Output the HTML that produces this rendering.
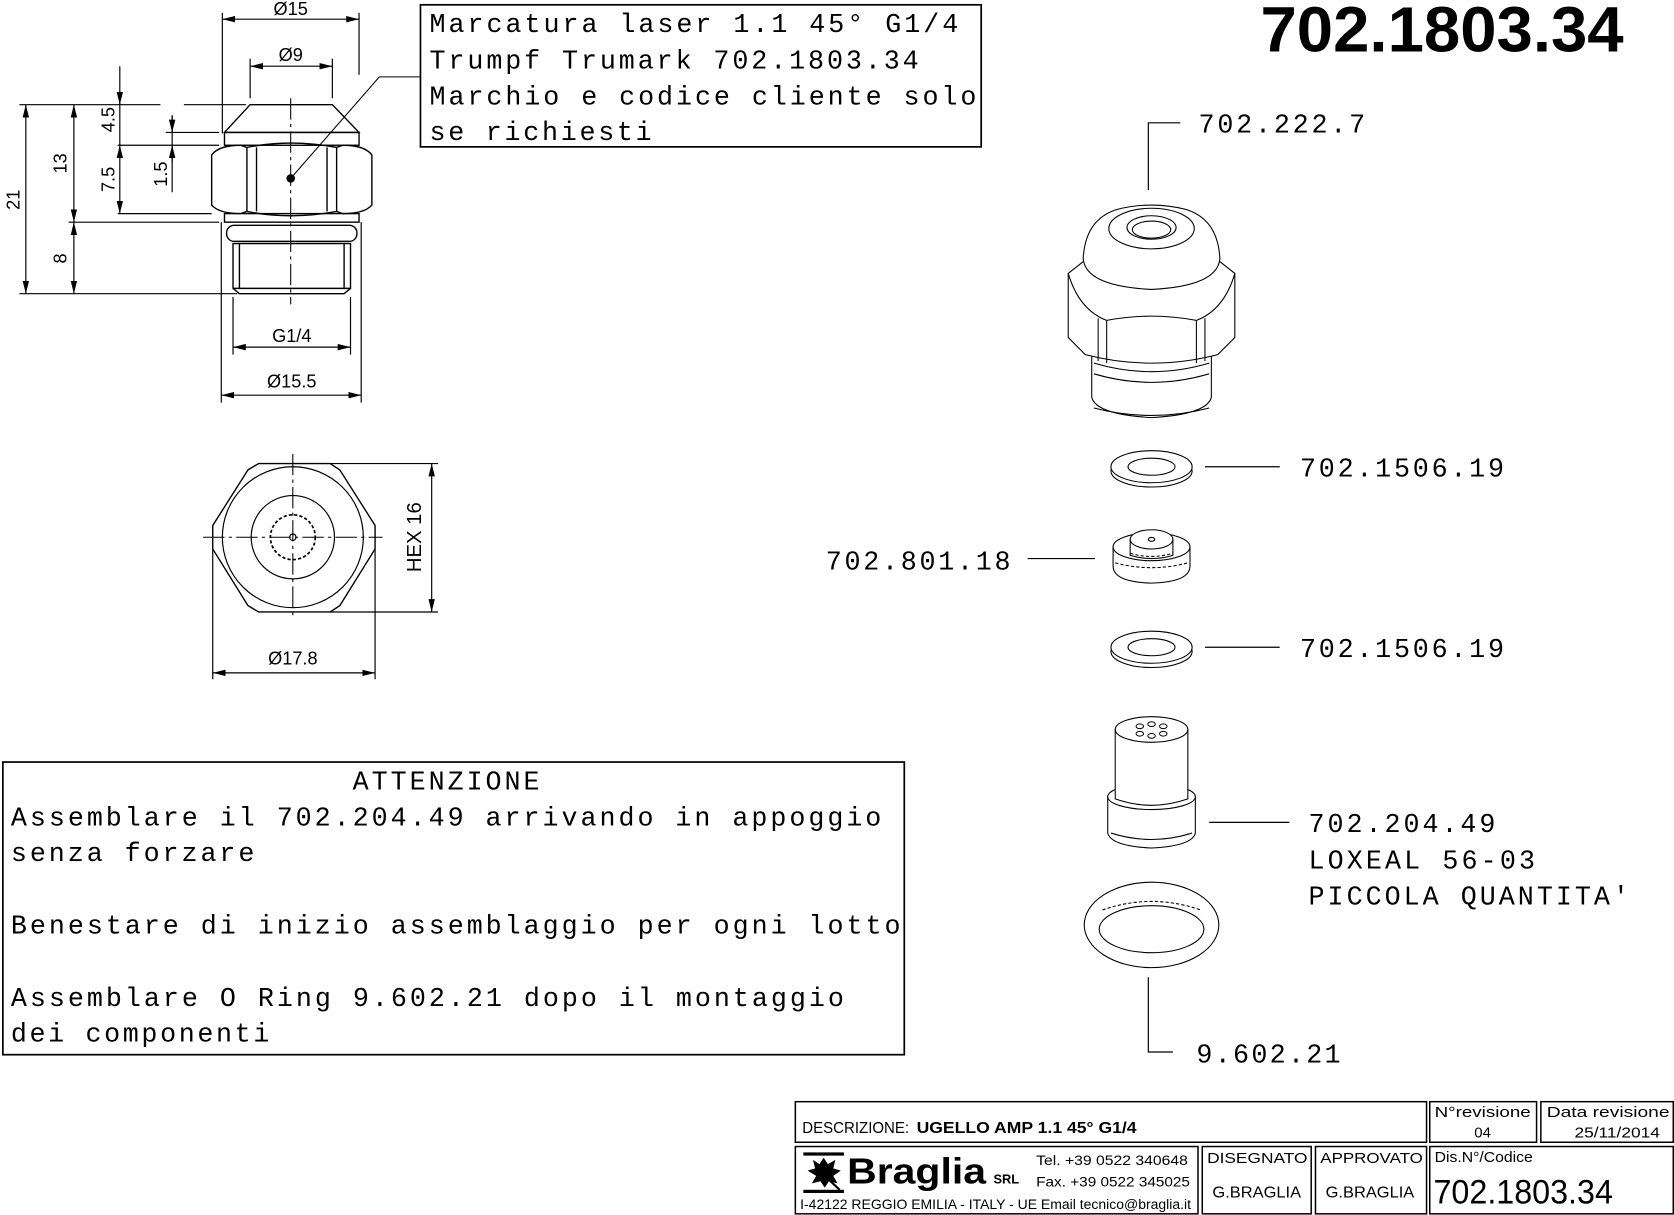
<!DOCTYPE html>
<html><head><meta charset="utf-8"><style>
html,body{margin:0;padding:0;background:#fff;}
svg{display:block}
.m{font-family:"Liberation Mono",monospace;font-size:25px;fill:#000}
.s{font-family:"Liberation Sans",sans-serif;fill:#000}
</style></head><body>
<svg width="1674" height="1215" viewBox="0 0 1567 1137.6" xmlns="http://www.w3.org/2000/svg">
<defs>
<marker id="a" viewBox="0 0 12 6" refX="12" refY="3" markerWidth="12" markerHeight="6" orient="auto-start-reverse" markerUnits="userSpaceOnUse"><path d="M0,0 L12,3 L0,6 z" fill="#000"/></marker>
</defs>
<rect width="1567" height="1138" fill="#fff"/>
<g fill="none" stroke="#000" stroke-width="1.3">
<path d="M234,98 L311,98 L336,124 L210,124 Z"/>
<rect x="210" y="124" width="126" height="12"/>
<path d="M198,145 Q205,136 225,136 L231,138 Q272,130 315,138 L321,136 Q341,136 348,145 L348,192 Q341,200 321,200 L315,198 Q272,206 231,198 L225,200 Q205,200 198,192 Z"/>
<line x1="231" y1="138" x2="231" y2="198"/><line x1="240" y1="138" x2="240" y2="198"/>
<line x1="306" y1="138" x2="306" y2="198"/><line x1="315" y1="138" x2="315" y2="198"/>
<rect x="210" y="200" width="126" height="8"/>
<rect x="212" y="211" width="122" height="15" rx="7"/>
<path d="M218,228 L328,228 L328,270 L322,275 L224,275 L218,270 Z"/>
<line x1="224" y1="228" x2="224" y2="270"/><line x1="322" y1="228" x2="322" y2="270"/>
<line x1="218" y1="270" x2="328" y2="270"/>
<line x1="272" y1="92" x2="272" y2="285" stroke-dasharray="20,4,3,4" stroke-width="1"/>
<polyline points="393,72 355,72 272,167" stroke-width="1"/>
</g>
<circle cx="272" cy="167" r="4"/>
<g stroke="#000" stroke-width="1.1" fill="none">
<line x1="208" y1="12" x2="208" y2="125"/><line x1="336" y1="12" x2="336" y2="70"/>
<line x1="208" y1="18" x2="336" y2="18" marker-start="url(#a)" marker-end="url(#a)"/>
<line x1="234" y1="55" x2="234" y2="92"/><line x1="311" y1="55" x2="311" y2="92"/>
<line x1="234" y1="62" x2="311" y2="62" marker-start="url(#a)" marker-end="url(#a)"/>
<line x1="218" y1="278" x2="218" y2="332"/><line x1="328" y1="278" x2="328" y2="332"/>
<line x1="218" y1="325" x2="328" y2="325" marker-start="url(#a)" marker-end="url(#a)"/>
<line x1="207" y1="208" x2="207" y2="377"/><line x1="338" y1="208" x2="338" y2="377"/>
<line x1="207" y1="370" x2="338" y2="370" marker-start="url(#a)" marker-end="url(#a)"/>
<line x1="18" y1="98" x2="150" y2="98"/><line x1="172" y1="98" x2="230" y2="98"/>
<line x1="155" y1="124" x2="205" y2="124"/>
<line x1="110" y1="136" x2="205" y2="136"/>
<line x1="110" y1="200" x2="198" y2="200"/>
<line x1="64" y1="208" x2="205" y2="208"/>
<line x1="18" y1="275" x2="222" y2="275"/>
<line x1="24" y1="98" x2="24" y2="275" marker-start="url(#a)" marker-end="url(#a)"/>
<line x1="69" y1="98" x2="69" y2="208" marker-start="url(#a)" marker-end="url(#a)"/>
<line x1="69" y1="208" x2="69" y2="275" marker-start="url(#a)" marker-end="url(#a)"/>
<line x1="112" y1="62" x2="112" y2="136"/>
<line x1="112" y1="86" x2="112" y2="98" marker-end="url(#a)"/>
<line x1="112" y1="136" x2="112" y2="200" marker-start="url(#a)" marker-end="url(#a)"/>
<line x1="161" y1="108" x2="161" y2="180"/>
<line x1="161" y1="108" x2="161" y2="124" marker-end="url(#a)"/>
<line x1="161" y1="152" x2="161" y2="136" marker-end="url(#a)"/>
<polygon points="242,434 309,434 318,440 351,492 351,514 318,567 309,573 242,573 232,567 199,514 199,492 232,440" stroke-width="1.3"/>
<circle cx="274" cy="503" r="66"/>
<circle cx="274" cy="503" r="39"/>
<circle cx="274" cy="503" r="21" stroke-dasharray="3,2" stroke-width="1.6"/>
<circle cx="274" cy="503" r="3"/>
<line x1="190" y1="503" x2="358" y2="503" stroke-dasharray="20,4,3,4" stroke-width="1"/>
<line x1="274" y1="425" x2="274" y2="580" stroke-dasharray="20,4,3,4" stroke-width="1"/>
<line x1="309" y1="434" x2="410" y2="434"/><line x1="309" y1="573" x2="410" y2="573"/>
<line x1="404" y1="434" x2="404" y2="573" marker-start="url(#a)" marker-end="url(#a)"/>
<line x1="199" y1="514" x2="199" y2="636"/><line x1="351" y1="514" x2="351" y2="636"/>
<line x1="199" y1="630" x2="351" y2="630" marker-start="url(#a)" marker-end="url(#a)"/>
</g>
<g class="s" font-size="17">
<text x="272" y="14" text-anchor="middle">Ø15</text>
<text x="272" y="57" text-anchor="middle">Ø9</text>
<text x="273" y="320" text-anchor="middle">G1/4</text>
<text x="273" y="363" text-anchor="middle">Ø15.5</text>
<text x="274" y="622" text-anchor="middle">Ø17.8</text>
<text transform="translate(18,187) rotate(-90)" text-anchor="middle">21</text>
<text transform="translate(62,153) rotate(-90)" text-anchor="middle">13</text>
<text transform="translate(62,242) rotate(-90)" text-anchor="middle">8</text>
<text transform="translate(107,112) rotate(-90)" text-anchor="middle">4.5</text>
<text transform="translate(107,168) rotate(-90)" text-anchor="middle">7.5</text>
<text transform="translate(156,163) rotate(-90)" text-anchor="middle">1.5</text>
<text transform="translate(394,503) rotate(-90)" text-anchor="middle" font-size="19">HEX  16</text>
</g>
<rect x="393.5" y="4.5" width="525" height="133" fill="none" stroke="#000" stroke-width="1.6"/>
<g class="m">
<text x="402" y="30" textLength="495" lengthAdjust="spacing">Marcatura laser 1.1 45° G1/4</text>
<text x="402" y="64" textLength="458" lengthAdjust="spacing">Trumpf Trumark 702.1803.34</text>
<text x="402" y="98" textLength="512" lengthAdjust="spacing">Marchio e codice cliente solo</text>
<text x="402" y="131" textLength="208" lengthAdjust="spacing">se richiesti</text>
</g>
<text x="1180" y="48" class="s" font-size="60" font-weight="bold" textLength="340" lengthAdjust="spacingAndGlyphs">702.1803.34</text>
<rect x="2.5" y="713.5" width="844" height="274" fill="none" stroke="#000" stroke-width="1.6"/>
<g class="m">
<text x="330" y="739" textLength="175" lengthAdjust="spacing">ATTENZIONE</text>
<text x="10" y="773" textLength="815" lengthAdjust="spacing">Assemblare il 702.204.49 arrivando in appoggio</text>
<text x="10" y="806" textLength="228" lengthAdjust="spacing">senza forzare</text>
<text x="10" y="874" textLength="833" lengthAdjust="spacing">Benestare di inizio assemblaggio per ogni lotto</text>
<text x="10" y="942" textLength="780" lengthAdjust="spacing">Assemblare O Ring 9.602.21 dopo il montaggio</text>
<text x="10" y="975" textLength="242" lengthAdjust="spacing">dei componenti</text>
<text x="1122" y="124" textLength="156" lengthAdjust="spacing">702.222.7</text>
<text x="1217" y="446" textLength="191" lengthAdjust="spacing">702.1506.19</text>
<text x="773" y="533" textLength="173" lengthAdjust="spacing">702.801.18</text>
<text x="1217" y="615" textLength="191" lengthAdjust="spacing">702.1506.19</text>
<text x="1225" y="779" textLength="175" lengthAdjust="spacing">702.204.49</text>
<text x="1225" y="813" textLength="212" lengthAdjust="spacing">LOXEAL 56-03</text>
<text x="1225" y="847" textLength="300" lengthAdjust="spacing">PICCOLA QUANTITA'</text>
<text x="1120" y="995" textLength="135" lengthAdjust="spacing">9.602.21</text>
</g>
<g stroke="#000" stroke-width="1.1" fill="none">
<polyline points="1105,115 1075,115 1075,178"/>
<line x1="1128" y1="437" x2="1198" y2="437"/>
<line x1="962" y1="523" x2="1025" y2="523"/>
<line x1="1128" y1="606" x2="1198" y2="606"/>
<line x1="1132" y1="770" x2="1207" y2="770"/>
<polyline points="1075,915 1075,985 1098,985"/>
</g>
<g stroke="#000" stroke-width="1" fill="#fff">
<!-- fitting -->
<path d="M1022,322 L1022,372 Q1026,388 1078,391 Q1130,388 1134,372 L1134,322 Z"/>
<path d="M1024,340 Q1078,356 1132,340" fill="none"/>
<path d="M1024,350 Q1078,366 1132,350" fill="none"/>
<path d="M1024,382 Q1078,396 1132,382" fill="none"/>
<path d="M1000,256 L1019,241 L1137,241 L1156,256 L1156,316 L1140,332 Q1078,348 1016,332 L1000,316 Z"/>
<path d="M1000,256 Q1010,290 1036,300 Q1078,292 1120,300 Q1146,290 1156,256" fill="none"/>
<line x1="1028" y1="298" x2="1028" y2="338"/><line x1="1036" y1="300" x2="1036" y2="340"/>
<line x1="1120" y1="300" x2="1120" y2="340"/><line x1="1128" y1="298" x2="1128" y2="338"/>
<path d="M1014,242 Q1016,205 1046,196 Q1078,188 1110,196 Q1140,205 1142,242 Q1140,268 1078,271 Q1016,268 1014,242 Z"/>
<ellipse cx="1078" cy="214" rx="40" ry="19"/>
<ellipse cx="1078" cy="213" rx="23" ry="11"/>
<ellipse cx="1078" cy="215" rx="18" ry="8" fill="none"/>
<!-- washer 1 -->
<ellipse cx="1078" cy="441" rx="38" ry="15"/>
<ellipse cx="1078" cy="437" rx="38" ry="15"/>
<ellipse cx="1078" cy="437" rx="22" ry="8"/>
<!-- 702.801.18 -->
<path d="M1042,512 L1042,530 Q1042,545 1078,546 Q1114,545 1114,530 L1114,512 Z"/>
<ellipse cx="1078" cy="512" rx="36" ry="13"/>
<path d="M1058,505 L1058,520 Q1078,526 1098,520 L1098,505 Z"/>
<ellipse cx="1078" cy="505" rx="20" ry="9"/>
<ellipse cx="1078" cy="505" rx="3" ry="1.8"/>
<path d="M1058,518 Q1078,524 1098,518 M1044,527 Q1078,536 1112,527" fill="none" stroke-dasharray="3,2"/>
<!-- washer 2 -->
<ellipse cx="1078" cy="610" rx="38" ry="15"/>
<ellipse cx="1078" cy="606" rx="38" ry="15"/>
<ellipse cx="1078" cy="606" rx="22" ry="8"/>
<!-- 702.204.49 -->
<path d="M1037,746 L1037,780 Q1040,792 1078,794 Q1116,792 1119,780 L1119,746 Z"/>
<ellipse cx="1078" cy="746" rx="41" ry="12"/>
<path d="M1044,683 L1044,748 Q1078,760 1112,748 L1112,683 Z"/>
<ellipse cx="1078" cy="683" rx="34" ry="12"/>
<path d="M1040,780 Q1078,792 1116,780" fill="none"/>
<g stroke-width="0.9">
<ellipse cx="1078" cy="678" rx="3.5" ry="2.2"/><ellipse cx="1078" cy="689" rx="3.5" ry="2.2"/>
<ellipse cx="1067" cy="680" rx="3.5" ry="2.2"/><ellipse cx="1089" cy="680" rx="3.5" ry="2.2"/>
<ellipse cx="1067" cy="687" rx="3.5" ry="2.2"/><ellipse cx="1089" cy="687" rx="3.5" ry="2.2"/>
</g>
<!-- o-ring -->
<ellipse cx="1078" cy="866" rx="63" ry="40"/>
<ellipse cx="1078" cy="870" rx="49" ry="22"/>
<path d="M1032,852 Q1078,836 1124,852" fill="none" stroke-dasharray="3,2"/>
</g>
<g fill="none" stroke="#000" stroke-width="1.4">
<rect x="744.5" y="1031.5" width="591" height="38"/>
<rect x="1338.5" y="1031.5" width="100" height="38"/>
<rect x="1442.5" y="1031.5" width="124" height="38"/>
<rect x="744.5" y="1073.5" width="377" height="63"/>
<rect x="1125.5" y="1073.5" width="102" height="63"/>
<rect x="1231.5" y="1073.5" width="104" height="63"/>
<rect x="1338.5" y="1073.5" width="228" height="63"/>
</g>
<g class="s">
<text x="751" y="1061" font-size="15" textLength="100" lengthAdjust="spacingAndGlyphs">DESCRIZIONE:</text>
<text x="858" y="1061" font-size="15" textLength="206" lengthAdjust="spacingAndGlyphs" font-weight="bold">UGELLO AMP 1.1 45° G1/4</text>
<text x="1343" y="1046" font-size="14" textLength="90" lengthAdjust="spacingAndGlyphs">N°revisione</text>
<text x="1388" y="1065" font-size="14" text-anchor="middle">04</text>
<text x="1448" y="1046" font-size="14" textLength="115" lengthAdjust="spacingAndGlyphs">Data revisione</text>
<text x="1474" y="1065" font-size="14" textLength="80" lengthAdjust="spacingAndGlyphs">25/11/2014</text>
<text x="1130" y="1089" font-size="14" textLength="94" lengthAdjust="spacingAndGlyphs">DISEGNATO</text>
<text x="1236" y="1089" font-size="14" textLength="96" lengthAdjust="spacingAndGlyphs">APPROVATO</text>
<text x="1135" y="1121" font-size="15" textLength="83" lengthAdjust="spacingAndGlyphs">G.BRAGLIA</text>
<text x="1241" y="1121" font-size="15" textLength="83" lengthAdjust="spacingAndGlyphs">G.BRAGLIA</text>
<text x="1343" y="1088" font-size="14" textLength="92" lengthAdjust="spacingAndGlyphs">Dis.N°/Codice</text>
<text x="1342" y="1127" font-size="32" textLength="168" lengthAdjust="spacingAndGlyphs">702.1803.34</text>
<text x="793" y="1108" font-size="34" font-weight="bold" textLength="130" lengthAdjust="spacingAndGlyphs">Braglia</text>
<text x="930" y="1108" font-size="12" font-weight="bold">SRL</text>
<text x="970" y="1091" font-size="13" textLength="142" lengthAdjust="spacingAndGlyphs">Tel. +39 0522 340648</text>
<text x="970" y="1111" font-size="13" textLength="144" lengthAdjust="spacingAndGlyphs">Fax. +39 0522 345025</text>
<text x="749" y="1132" font-size="13" textLength="366" lengthAdjust="spacingAndGlyphs">I-42122 REGGIO EMILIA - ITALY - UE Email tecnico@braglia.it</text>
</g>
<rect x="752" y="1079" width="38" height="3"/>
<rect x="752" y="1114" width="38" height="3"/>
<path d="M771,1084 L775,1090 L782,1086 L780,1094 L787,1096 L780,1101 L784,1108 L776,1106 L772,1112 L768,1106 L760,1108 L764,1101 L756,1096 L763,1094 L761,1086 L767,1090 Z"/>
<line x1="771" y1="1100" x2="786" y2="1114" stroke="#000" stroke-width="2"/>
</svg>
</body></html>
